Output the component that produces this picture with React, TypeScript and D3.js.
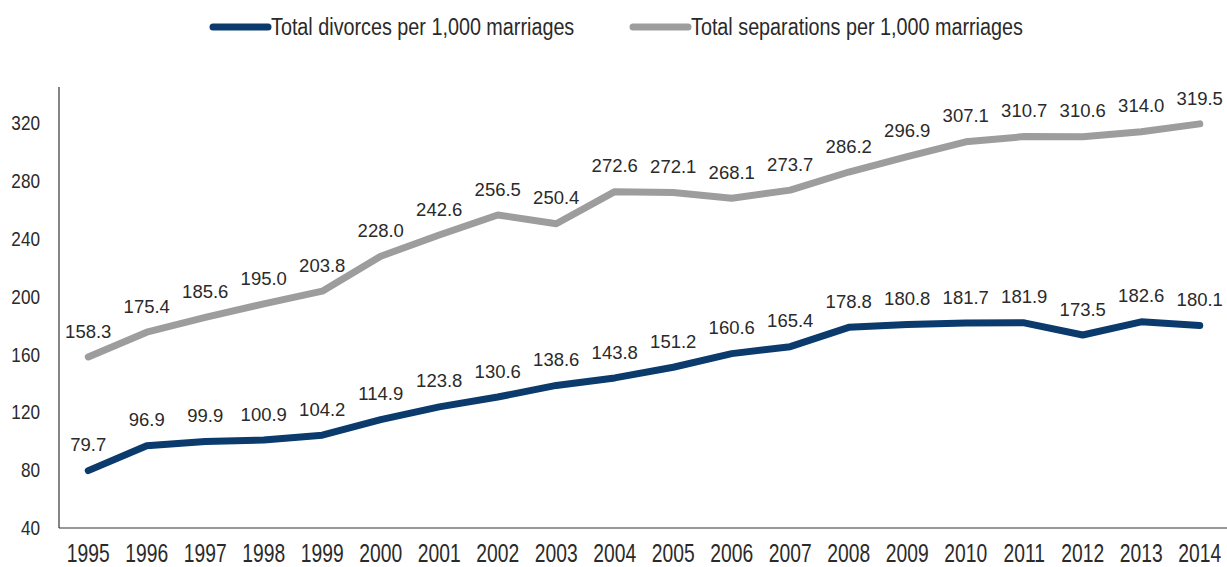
import React from "react";
import * as d3 from "d3";

const years = [1995, 1996, 1997, 1998, 1999, 2000, 2001, 2002, 2003, 2004, 2005, 2006, 2007, 2008, 2009, 2010, 2011, 2012, 2013, 2014];
const divorces = [79.7, 96.9, 99.9, 100.9, 104.2, 114.9, 123.8, 130.6, 138.6, 143.8, 151.2, 160.6, 165.4, 178.8, 180.8, 181.7, 181.9, 173.5, 182.6, 180.1];
const separations = [158.3, 175.4, 185.6, 195.0, 203.8, 228.0, 242.6, 256.5, 250.4, 272.6, 272.1, 268.1, 273.7, 286.2, 296.9, 307.1, 310.7, 310.6, 314.0, 319.5];
const yTicks = [40, 80, 120, 160, 200, 240, 280, 320];
const seriesNames = ["Total divorces per 1,000 marriages", "Total separations per 1,000 marriages"];

const W = 1227;
const H = 567;
const NAVY = "#0b3a6c";
const GRAY = "#9d9d9d";
const SANS = "'Liberation Sans', Arial, sans-serif";

export default function App() {
  const axisLeft = 59;
  const axisBottom = 528;
  const axisTop = 87;
  const step = 58.5;
  const x = d3.scalePoint<number>().domain(years).range([axisLeft + step / 2, axisLeft + step / 2 + step * (years.length - 1)]);
  const y = d3.scaleLinear().domain([40, 345]).range([axisBottom, axisTop]);
  const line = d3.line<number>().x((_, i) => x(years[i]) as number).y((d) => y(d));

  const series = [
    { name: seriesNames[0], values: divorces, color: NAVY },
    { name: seriesNames[1], values: separations, color: GRAY },
  ];
  const legendX = [213, 633];

  return (
    <svg width={W} height={H} style={{ position: "absolute", left: 0, top: 0, background: "#fff" }}>
      {/* legend */}
      {series.map((s, i) => (
        <g key={s.name}>
          <line x1={legendX[i]} x2={legendX[i] + 55} y1={27} y2={27} stroke={s.color} strokeWidth={7} strokeLinecap="round" />
          <text transform={`translate(${legendX[i] + 58},27) scale(0.86,1)`} dy="0.36em" fontFamily={SANS} fontSize={23} fill="#2a2a2a">{s.name}</text>
        </g>
      ))}
      {/* axes */}
      <line x1={axisLeft} x2={axisLeft} y1={axisTop} y2={axisBottom} stroke="#333" strokeWidth={1.2} />
      <line x1={axisLeft} x2={W} y1={axisBottom} y2={axisBottom} stroke="#333" strokeWidth={1.2} />
      {yTicks.map((t) => (
        <text key={t} transform={`translate(40,${y(t)}) scale(0.88,1)`} dy="0.36em" textAnchor="end" fontFamily={SANS} fontSize={19.5} fill="#2a2a2a">{t}</text>
      ))}
      {years.map((yr) => (
        <text key={yr} transform={`translate(${x(yr)},553) scale(0.77,1)`} dy="0.36em" textAnchor="middle" fontFamily={SANS} fontSize={25} fill="#2a2a2a">{yr}</text>
      ))}
      {/* lines */}
      {series.map((s) => (
        <path key={s.name} d={line(s.values) || ""} fill="none" stroke={s.color} strokeWidth={7} strokeLinejoin="round" strokeLinecap="round" />
      ))}
      {/* labels */}
      {series.map((s) =>
        s.values.map((v, i) => (
          <text key={s.name + i} x={x(years[i])} y={y(v) - 26} dy="0.36em" textAnchor="middle" fontFamily={SANS} fontSize={18.5} fill="#2a2a2a">{v.toFixed(1)}</text>
        ))
      )}
    </svg>
  );
}
